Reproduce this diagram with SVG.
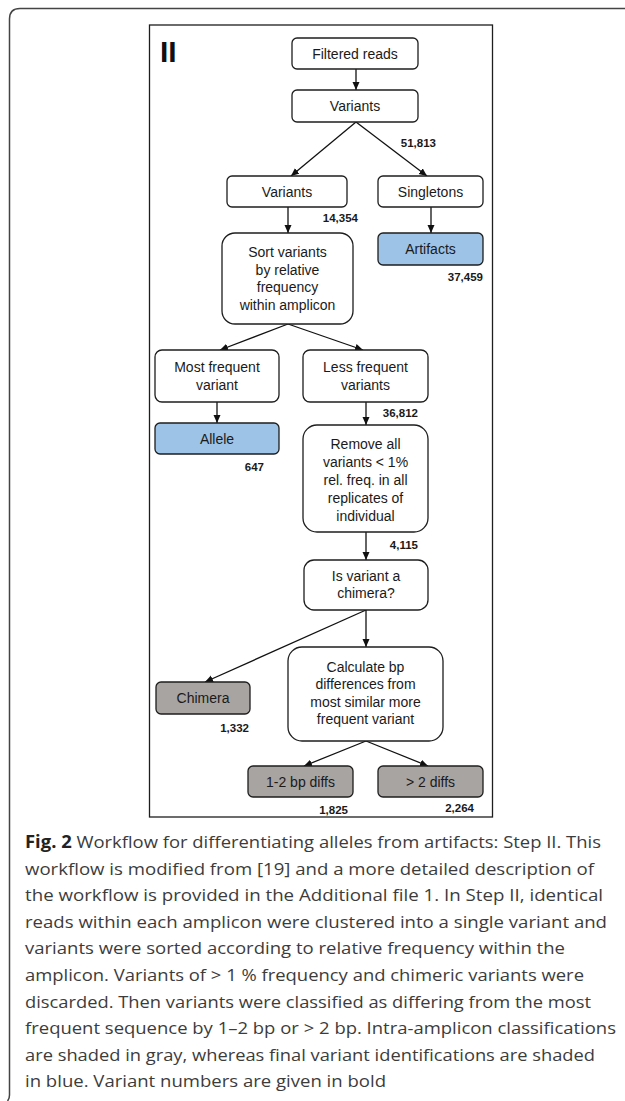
<svg xmlns="http://www.w3.org/2000/svg" width="625" height="1101" viewBox="0 0 625 1101">
  <defs>
    <marker id="arrow" markerUnits="userSpaceOnUse" markerWidth="9" markerHeight="8" refX="8" refY="3.5" orient="auto">
      <path d="M0,0 L8,3.5 L0,7 z" fill="#111"/>
    </marker>
    <style>
      .box { fill: #ffffff; stroke: #1e1e1e; stroke-width: 1.3; }
      .blue { fill: #9dc3e6; }
      .gray { fill: #a8a4a2; }
      .lbl { font-family: "Liberation Sans", Arial, sans-serif; font-size: 14px; fill: #1a1a1a; text-anchor: middle; }
      .num { font-family: "Liberation Sans", Arial, sans-serif; font-size: 11.5px; font-weight: bold; fill: #1a1a1a; text-anchor: end; }
      .edge { stroke: #111; stroke-width: 1.3; fill: none; marker-end: url(#arrow); }
      .cap { font-family: "Open Sans", "Noto Sans", sans-serif; font-size: 17px; fill: #3c3c3c; }
      .capb { font-weight: bold; fill: #222; }
    </style>
  </defs>

  <rect width="625" height="1101" fill="#ffffff"/>

  <!-- outer figure frame -->
  <path d="M625,8.5 H20 Q9.5,8.5 9.5,19 V1095 Q9.5,1099 7.5,1101" fill="none" stroke="#444" stroke-width="1.5"/>

  <!-- panel frame -->
  <rect x="149.5" y="25" width="343" height="792" fill="none" stroke="#1e1e1e" stroke-width="1.3"/>
  <text x="160" y="62" font-family="Liberation Sans, Arial, sans-serif" font-size="30" font-weight="bold" fill="#111">II</text>

  <!-- connectors -->
  <g id="connectors">
    <line class="edge" x1="356" y1="69" x2="356" y2="90"/>
    <line class="edge" x1="356" y1="122" x2="291" y2="176"/>
    <line class="edge" x1="356" y1="122" x2="427" y2="176"/>
    <line class="edge" x1="288" y1="207" x2="288" y2="233"/>
    <line class="edge" x1="431" y1="207" x2="431" y2="233"/>
    <line class="edge" x1="288" y1="324" x2="220" y2="350"/>
    <line class="edge" x1="288" y1="324" x2="363" y2="350"/>
    <line class="edge" x1="217" y1="402" x2="217" y2="423"/>
    <line class="edge" x1="366" y1="402" x2="366" y2="425"/>
    <line class="edge" x1="366" y1="532" x2="366" y2="560"/>
    <line class="edge" x1="366" y1="610" x2="366" y2="647"/>
    <line class="edge" x1="366" y1="610" x2="205" y2="682"/>
    <line class="edge" x1="366" y1="741" x2="304" y2="766"/>
    <line class="edge" x1="366" y1="741" x2="428" y2="766"/>
  </g>

  <!-- nodes -->
  <g id="filtered-reads">
    <rect class="box" x="292" y="38" width="126" height="31" rx="5"/>
    <text class="lbl" x="355" y="58.5">Filtered reads</text>
  </g>
  <g id="variants-all">
    <rect class="box" x="292" y="90" width="126" height="32" rx="5"/>
    <text class="lbl" x="355" y="111">Variants</text>
  </g>
  <text class="num" x="436" y="147">51,813</text>

  <g id="variants">
    <rect class="box" x="227" y="176" width="120" height="31" rx="5"/>
    <text class="lbl" x="287" y="196.5">Variants</text>
  </g>
  <text class="num" x="358" y="222">14,354</text>

  <g id="singletons">
    <rect class="box" x="378" y="176" width="105" height="31" rx="5"/>
    <text class="lbl" x="430.5" y="196.5">Singletons</text>
  </g>
  <g id="artifacts">
    <rect class="box blue" x="378" y="233" width="105" height="32" rx="5"/>
    <text class="lbl" x="430.5" y="254">Artifacts</text>
  </g>
  <text class="num" x="483" y="281">37,459</text>

  <g id="sort">
    <rect class="box" x="222" y="233" width="131" height="91" rx="13"/>
    <text class="lbl" x="287.5" y="257">Sort variants</text>
    <text class="lbl" x="287.5" y="274.7">by relative</text>
    <text class="lbl" x="287.5" y="292.4">frequency</text>
    <text class="lbl" x="287.5" y="310">within amplicon</text>
  </g>

  <g id="most-frequent">
    <rect class="box" x="155" y="350" width="124" height="52" rx="7"/>
    <text class="lbl" x="217" y="372">Most frequent</text>
    <text class="lbl" x="217" y="390">variant</text>
  </g>
  <g id="allele">
    <rect class="box blue" x="155" y="423" width="124" height="31" rx="5"/>
    <text class="lbl" x="217" y="443.5">Allele</text>
  </g>
  <text class="num" x="264" y="471">647</text>

  <g id="less-frequent">
    <rect class="box" x="303" y="350" width="125" height="52" rx="7"/>
    <text class="lbl" x="365.5" y="372">Less frequent</text>
    <text class="lbl" x="365.5" y="390">variants</text>
  </g>
  <text class="num" x="418" y="417">36,812</text>

  <g id="remove">
    <rect class="box" x="303" y="425" width="125" height="107" rx="14"/>
    <text class="lbl" x="365.5" y="449">Remove all</text>
    <text class="lbl" x="365.5" y="467">variants &lt; 1%</text>
    <text class="lbl" x="365.5" y="485">rel. freq. in all</text>
    <text class="lbl" x="365.5" y="503">replicates of</text>
    <text class="lbl" x="365.5" y="521">individual</text>
  </g>
  <text class="num" x="418" y="549">4,115</text>

  <g id="is-chimera">
    <rect class="box" x="304" y="560" width="124" height="50" rx="10"/>
    <text class="lbl" x="366" y="581">Is variant a</text>
    <text class="lbl" x="366" y="598">chimera?</text>
  </g>

  <g id="chimera">
    <rect class="box gray" x="156" y="682" width="94" height="32" rx="5"/>
    <text class="lbl" x="203" y="703">Chimera</text>
  </g>
  <text class="num" x="249" y="732">1,332</text>

  <g id="calculate">
    <rect class="box" x="288" y="647" width="155" height="94" rx="14"/>
    <text class="lbl" x="365.5" y="672">Calculate bp</text>
    <text class="lbl" x="365.5" y="689.3">differences from</text>
    <text class="lbl" x="365.5" y="706.7">most similar more</text>
    <text class="lbl" x="365.5" y="724">frequent variant</text>
  </g>

  <g id="diffs-1-2">
    <rect class="box gray" x="248" y="766" width="105" height="31" rx="5"/>
    <text class="lbl" x="300.5" y="786.5">1-2 bp diffs</text>
  </g>
  <text class="num" x="348" y="814">1,825</text>

  <g id="diffs-gt2">
    <rect class="box gray" x="378" y="766" width="105" height="31" rx="5"/>
    <text class="lbl" x="430.5" y="786.5">&gt; 2 diffs</text>
  </g>
  <text class="num" x="474" y="812">2,264</text>

  <!-- caption -->
  <g id="caption" class="cap">
    <text x="25" y="848" textLength="576" lengthAdjust="spacingAndGlyphs"><tspan class="capb">Fig. 2</tspan> Workflow for differentiating alleles from artifacts: Step II. This</text>
    <text x="25" y="874.6" textLength="569" lengthAdjust="spacingAndGlyphs">workflow is modified from [19] and a more detailed description of</text>
    <text x="25" y="901.2" textLength="578" lengthAdjust="spacingAndGlyphs">the workflow is provided in the Additional file 1. In Step II, identical</text>
    <text x="25" y="927.8" textLength="582" lengthAdjust="spacingAndGlyphs">reads within each amplicon were clustered into a single variant and</text>
    <text x="25" y="954.4" textLength="540" lengthAdjust="spacingAndGlyphs">variants were sorted according to relative frequency within the</text>
    <text x="25" y="981" textLength="559" lengthAdjust="spacingAndGlyphs">amplicon. Variants of &gt; 1 % frequency and chimeric variants were</text>
    <text x="25" y="1007.6" textLength="566" lengthAdjust="spacingAndGlyphs">discarded. Then variants were classified as differing from the most</text>
    <text x="25" y="1034.2" textLength="591" lengthAdjust="spacingAndGlyphs">frequent sequence by 1–2 bp or &gt; 2 bp. Intra-amplicon classifications</text>
    <text x="25" y="1060.8" textLength="570" lengthAdjust="spacingAndGlyphs">are shaded in gray, whereas final variant identifications are shaded</text>
    <text x="25" y="1087.4" textLength="361" lengthAdjust="spacingAndGlyphs">in blue. Variant numbers are given in bold</text>
  </g>
</svg>
